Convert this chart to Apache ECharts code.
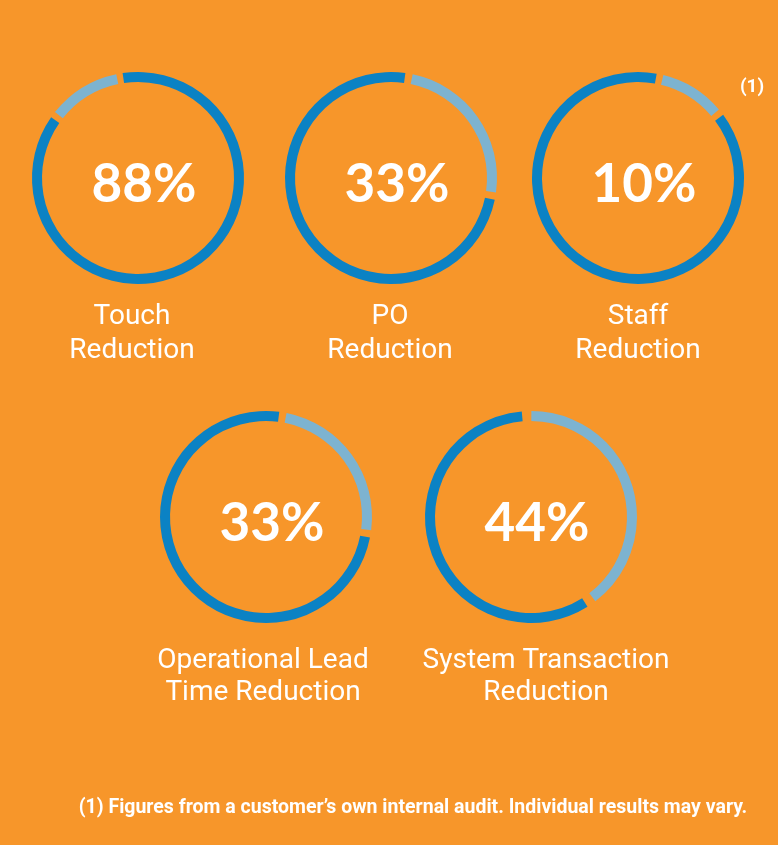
<!DOCTYPE html>
<html>
<head>
<meta charset="utf-8">
<script src="https://cdn.jsdelivr.net/npm/echarts@6/dist/echarts.min.js"></script>
<style>
html,body{margin:0;padding:0;background:#F7962A;}
#c{width:778px;height:845px;}
</style>
</head>
<body>
<div id="c"></div>
<script>
// ---- data ----
const categories = [
  "Touch\nReduction",
  "PO\nReduction",
  "Staff\nReduction",
  "Operational Lead\nTime Reduction",
  "System Transaction\nReduction"
];
const percentLabels = ["88%", "33%", "10%", "33%", "44%"];
const lightArc = [12, 25, 11, 25, 41];   // light-blue share of each ring
const darkArc  = [88, 75, 89, 75, 59];   // dark-blue share of each ring
const footnoteMark = "(1)";
const footnote = "(1) Figures from a customer\u2019s own internal audit. Individual results may vary.";

// ---- layout / style ----
const BG = "#F7962A", DARK = "#0B82C4", LIGHT = "#7DB3D0";
const centers = [[138,178],[391,178],[638,178],[266,517],[531,517]];
const startAngles = [143.3, 80.2, 78, 80.8, 92.4];
const pads = [3.5, 4, 3.7, 4, 5.2];
const labelPos = [[132,334],[390,334],[638,334],[263,677],[546,677]];
const labelLH = [34,34,34,32,32];

const chart = echarts.init(document.getElementById('c'), null, {renderer:'canvas'});
const series = categories.map((c, i) => ({
  type: 'pie',
  silent: true,
  center: centers[i],
  radius: [96, 106],
  startAngle: startAngles[i],
  clockwise: true,
  padAngle: pads[i],
  avoidLabelOverlap: false,
  label: {show: false},
  labelLine: {show: false},
  emphasis: {disabled: true},
  animation: false,
  data: [
    {name: c + ' light', value: lightArc[i], itemStyle: {color: LIGHT}},
    {name: c + ' dark', value: darkArc[i], itemStyle: {color: DARK}}
  ]
}));

const graphics = [];
percentLabels.forEach((p, i) => {
  graphics.push({
    type: 'text', x: centers[i][0] + 6, y: centers[i][1] + 7,
    style: {text: p, fill: '#fff', font: 'bold 53px Lato', align: 'center', verticalAlign: 'middle'}
  });
  graphics.push({
    type: 'text', x: labelPos[i][0], y: labelPos[i][1],
    style: {text: categories[i], fill: '#fff', font: '28px Roboto', align: 'center', verticalAlign: 'middle', lineHeight: labelLH[i]}
  });
});
graphics.push({
  type: 'text', x: 752, y: 87,
  style: {text: footnoteMark, fill: '#fff', font: 'bold 19px Roboto', align: 'center', verticalAlign: 'middle'}
});
graphics.push({
  type: 'text', x: 413, y: 808,
  style: {text: footnote, fill: '#fff', font: 'bold 19.5px Roboto', align: 'center', verticalAlign: 'middle'}
});

chart.setOption({
  backgroundColor: BG,
  animation: false,
  series: series,
  graphic: graphics
});
</script>
</body>
</html>
